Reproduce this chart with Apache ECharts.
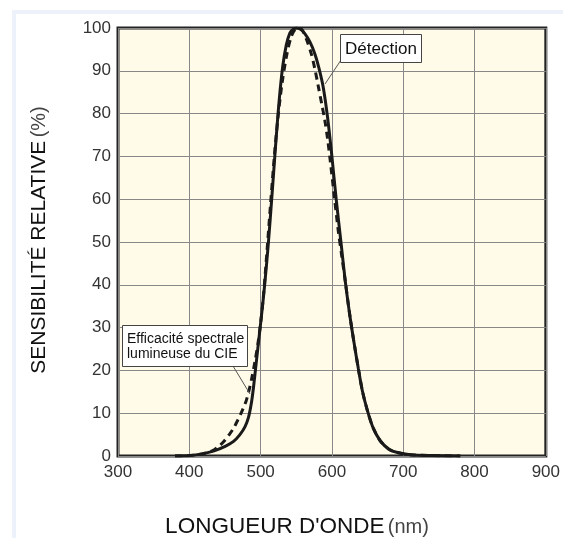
<!DOCTYPE html>
<html>
<head>
<meta charset="utf-8">
<script src="https://cdn.jsdelivr.net/npm/echarts@6/dist/echarts.min.js"></script>
<style>html,body{margin:0;padding:0;background:#fff;}#c{width:563px;height:538px;}</style>
</head>
<body>
<div id="c"></div>
<script>
// Data (wavelength nm, relative sensitivity %)
var detection = [
  [380,0],[400,0.1],[418,0.5],[435,1.2],[451,2.3],[462,3.4],[471,5],[478,6.8],[483,9],[487,12.3],[490,16],
  [494,22],[498,28],[502,34],[506,40.5],[511,50],[516,61],[521,72.5],[526,83],[531,91],[536,96],[541,98.8],
  [545,99.6],[550,100],[556,99.7],[562,98.7],[569,96.8],[576,94],[582,90.5],[588,86],[594,79],[600,70],
  [606,60],[613,49.5],[619,40.5],[625,33],[631,26.5],[637,20.5],[643,15],[650,10.5],[658,6.5],[668,3.5],
  [680,1.6],[692,0.8],[710,0.3],[740,0.1],[780,0]
];
var cie = [
  [380,0],[400,0.1],[418,0.5],[432,1.2],[441,2.2],[449,3.5],[456,5],[462.5,6.6],[468,8.4],[472,9.8],[476,11.3],
  [480,13],[484,15.5],[488,18.5],[492,22],[496,26],[500,31],[504,37.5],[509,48],[514,59],[519,69.5],[524,78.5],
  [530,87],[537,94],[543,98],[548,99.6],[553,100],[558,99.6],[564,97.5],[571,94],[576,90.5],[581,86.3],[586,82],
  [590,78.5],[594,74],[598,68.5],[604,59.7],[609,52.5],[614,46.5],[619,40.5],[625,33],[631,26.5],[637,20.5],
  [643,15],[650,10.5],[658,6.5],[668,3.5],[680,1.6],[692,0.8],[710,0.3],[740,0.1],[780,0]
];
var xTicks = {min:300, max:900, step:100};
var yTicks = {min:0, max:100, step:10};
var labelDetection = 'Détection';
var labelCIE = ['Efficacité spectrale', 'lumineuse du CIE'];
var yTitle = 'SENSIBILITÉ RELATIVE';
var yUnit = '(%)';
var xTitle = 'LONGUEUR D\'ONDE';
var xUnit = '(nm)';

var chart = echarts.init(document.getElementById('c'), null, {renderer:'canvas'});
var font = 'Liberation Sans, Arial, sans-serif';
chart.setOption({
  animation:false,
  backgroundColor:'#ffffff',
  grid:{left:118, top:28, right:13, bottom:82, show:true, backgroundColor:'#fffbe8', borderColor:'#222', borderWidth:3, z:0},
  xAxis:{type:'value', min:xTicks.min, max:xTicks.max, interval:xTicks.step,
    axisLine:{show:false}, axisTick:{show:false},
    axisLabel:{fontFamily:font, fontSize:17, color:'#333', margin:8},
    splitLine:{show:true, lineStyle:{color:'#888', width:1}}},
  yAxis:{type:'value', min:yTicks.min, max:yTicks.max, interval:yTicks.step,
    axisLine:{show:false}, axisTick:{show:false},
    axisLabel:{fontFamily:font, fontSize:17, color:'#333', margin:7},
    splitLine:{show:true, lineStyle:{color:'#888', width:1}}},
  series:[
    {type:'line', data:detection, showSymbol:false, smooth:0.3,
     lineStyle:{color:'#1a1a1a', width:3}, z:3},
    {type:'line', data:cie, showSymbol:false, smooth:0.3,
     lineStyle:{color:'#1a1a1a', width:3, type:[7,5]}, z:4}
  ],
  graphic:[
    {type:'rect', shape:{x:14, y:12, width:600, height:600}, style:{fill:null, stroke:'#edf2fa', lineWidth:4}, z:-10, silent:true},
    {type:'line', shape:{x1:341, y1:60, x2:325, y2:84}, style:{stroke:'#555', lineWidth:1}, z:10},
    {type:'rect', shape:{x:340.5, y:34.5, width:81, height:28}, style:{fill:'#fff', stroke:'#444', lineWidth:1}, z:11},
    {type:'text', x:381, y:49, style:{text:labelDetection, font:'17px '+font, fill:'#111', align:'center', verticalAlign:'middle'}, z:12},
    {type:'line', shape:{x1:233, y1:366, x2:250, y2:394}, style:{stroke:'#555', lineWidth:1}, z:10},
    {type:'rect', shape:{x:122.5, y:325.5, width:125, height:41}, style:{fill:'#fff', stroke:'#444', lineWidth:1}, z:11},
    {type:'text', x:127, y:339, style:{text:labelCIE[0], font:'14px '+font, fill:'#111', align:'left', verticalAlign:'middle'}, z:12},
    {type:'text', x:127, y:354.5, style:{text:labelCIE[1], font:'14px '+font, fill:'#111', align:'left', verticalAlign:'middle'}, z:12},
    {type:'text', x:297, y:527, style:{text:'{a|'+xTitle+'} {b|'+xUnit+'}', align:'center', verticalAlign:'middle',
      rich:{a:{fontFamily:font, fontSize:22.5, fill:'#111', color:'#111'}, b:{fontFamily:font, fontSize:20, fill:'#444', color:'#444'}}}, z:12},
    {type:'text', x:39, y:240, rotation:Math.PI/2, style:{text:'{a|'+yTitle+'} {b|'+yUnit+'}', align:'center', verticalAlign:'middle',
      rich:{a:{fontFamily:font, fontSize:21, fill:'#111', color:'#111'}, b:{fontFamily:font, fontSize:20, fill:'#444', color:'#444'}}}, z:12}
  ]
});
</script>
</body>
</html>
